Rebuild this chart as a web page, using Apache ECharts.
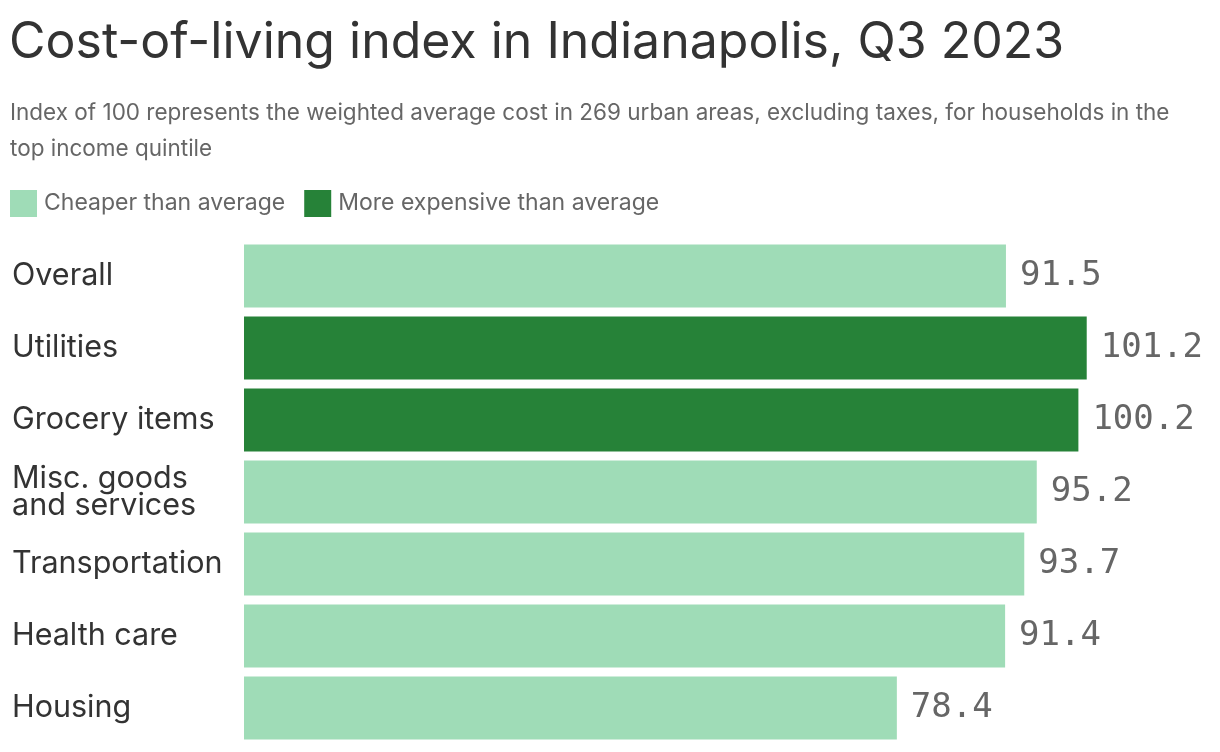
<!DOCTYPE html>
<html><head><meta charset="utf-8">
<script src="https://cdn.jsdelivr.net/npm/echarts@6/dist/echarts.min.js"></script>
<style>html,body{margin:0;padding:0;background:#fff}#c{width:1220px;height:752px}</style>
</head><body><div id="c"></div>
<script>
const categories = ["Overall","Utilities","Grocery items","Misc. goods\nand services","Transportation","Health care","Housing"];
const values = [91.5, 101.2, 100.2, 95.2, 93.7, 91.4, 78.4];
const seriesNames = ["Cheaper than average","More expensive than average"];
const cheaper = values.map(v => v < 100 ? v : '-');
const pricier = values.map(v => v >= 100 ? v : '-');

const chart = echarts.init(document.getElementById('c'), null, {renderer:'canvas'});
const valueLabel = {show:true, position:'right', distance:14, fontFamily:'DejaVu Sans Mono', fontSize:34, color:'#666',
  formatter: p => p.value.toFixed(1)};
chart.setOption({
  animation:false,
  title:[
    {text:'Cost-of-living index in Indianapolis, Q3 2023', left:9, top:18, padding:0,
     textStyle:{fontFamily:'Inter', fontSize:50, fontWeight:'normal', color:'#333'}},
    {text:'Index of 100 represents the weighted average cost in 269 urban areas, excluding taxes, for households in the\ntop income quintile', left:10, top:95, padding:0,
     textStyle:{fontFamily:'Inter', fontSize:22.5, fontWeight:'normal', color:'#666', lineHeight:36}},
  ],
  legend:{left:10, top:190, padding:0, itemWidth:27, itemHeight:27, itemGap:19, icon:'rect',
    textStyle:{fontFamily:'Inter', fontSize:23, color:'#666', padding:[2,0,0,2]}, data:seriesNames},
  grid:{left:244, right:60, top:240, bottom:8, containLabel:false},
  xAxis:{type:'value', min:0, max:110, show:false},
  yAxis:{type:'category', data:categories, inverse:true,
    axisLine:{show:false}, axisTick:{show:false},
    axisLabel:{align:'left', margin:232, fontFamily:'Inter', fontSize:30.5, color:'#333', lineHeight:27}},
  series:[
    {name:seriesNames[0], type:'bar', stack:'a', data:cheaper, barCategoryGap:'12.5%', itemStyle:{color:'#9fdcb7'}, label:valueLabel},
    {name:seriesNames[1], type:'bar', stack:'a', data:pricier, barCategoryGap:'12.5%', itemStyle:{color:'#268238'}, label:valueLabel}
  ]
});
</script></body></html>
